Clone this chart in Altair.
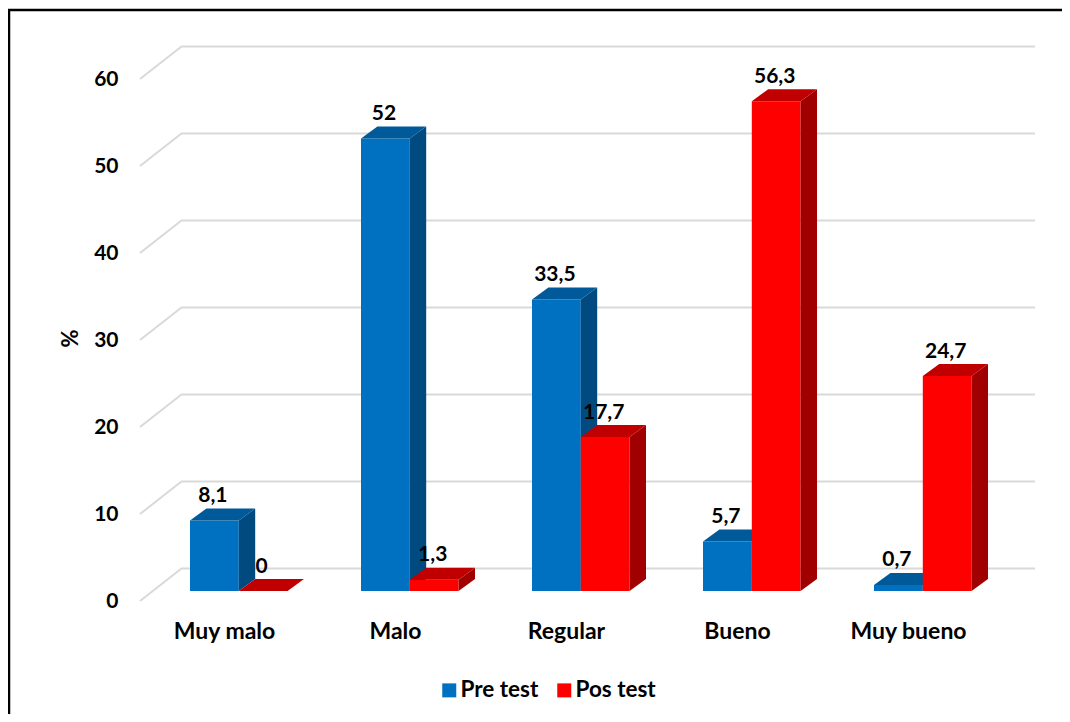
import json
import altair as alt
import pandas as pd

categories = ["Muy malo", "Malo", "Regular", "Bueno", "Muy bueno"]
pre_test = [8.1, 52, 33.5, 5.7, 0.7]
pos_test = [0, 1.3, 17.7, 56.3, 24.7]
pre_labels = ["8,1", "52", "33,5", "5,7", "0,7"]
pos_labels = ["0", "1,3", "17,7", "56,3", "24,7"]
y_ticks = [0, 10, 20, 30, 40, 50, 60]
series = ["Pre test", "Pos test"]

FONT = "Lato"
LEGEND_SIZE = 22.5
TEXT_SIZE = 21
CAT_SIZE = 23
W, H = 1054, 706
PX_X = 171.0   # pixels per category step
PX_Y = 8.7     # pixels per percent
BAR = 48.8 / PX_X
DX = 16.4 / PX_X
DY = 12 / PX_Y
X_DOMAIN = [(8 - 190) / PX_X, (8 + W - 190) / PX_X]
Y_DOMAIN = [(591 - 8 - H) / PX_Y, (591 - 8) / PX_Y]
x_scale = alt.Scale(domain=X_DOMAIN, nice=False, zero=False)
y_scale = alt.Scale(domain=Y_DOMAIN, nice=False, zero=False)

AXIS_SHIFT = 34 / PX_X
AXIS_X = [i + AXIS_SHIFT for i in range(len(categories))]
label_expr = "%s[round(datum.value - %f)]" % (json.dumps(categories), AXIS_SHIFT)
x_axis = alt.Axis(
    values=AXIS_X, labelExpr=label_expr, title=None, grid=False, domain=False, ticks=False,
    labelFont=FONT, labelFontWeight="bold", labelFontSize=CAT_SIZE, labelColor="#000000",
    labelPadding=0, offset=-83, labelBaseline="middle", labelFlush=False, labelOverlap=False,
)
y_axis = alt.Axis(
    values=y_ticks, title="%", grid=False, domain=False, ticks=False,
    labelFont=FONT, labelFontWeight="bold", labelFontSize=TEXT_SIZE, labelColor="#000000",
    labelPadding=0, offset=-110, labelOffset=10, labelBaseline="middle",
    labelOverlap=False, labelFlush=False,
    titleFont=FONT, titleFontWeight="bold", titleFontSize=22, titleColor="#000000",
    titleX=-48, titleY=330, titleAngle=270, titleAlign="center", titleBaseline="middle",
)
X = alt.X("x:Q", scale=x_scale, axis=x_axis)
Y = alt.Y("y:Q", scale=y_scale, axis=y_axis)


def faces(values, shift):
    rects, sides, tops = [], [], []
    for i, v in enumerate(values):
        x0 = i + shift
        x1 = x0 + BAR
        rects.append({"x": x0, "x2": x1, "y": 0, "y2": v})
        sides += [
            {"id": i, "x": x1, "y": 0, "y2": v},
            {"id": i, "x": x1 + DX, "y": DY, "y2": v + DY},
        ]
        tops += [
            {"id": i, "x": x0, "y": v, "y2": v},
            {"id": i, "x": x0 + DX, "y": v, "y2": v + DY},
            {"id": i, "x": x1, "y": v, "y2": v + DY},
            {"id": i, "x": x1 + DX, "y": v + DY, "y2": v + DY},
        ]
    return pd.DataFrame(rects), pd.DataFrame(sides), pd.DataFrame(tops)


def series_layers(values, shift, name, side_color, top_color):
    r, s, t = faces(values, shift)
    r["serie"] = name
    rect = alt.Chart(r).mark_rect().encode(
        x=X, x2="x2:Q", y=Y, y2="y2:Q",
        color=alt.Color(
            "serie:N",
            scale=alt.Scale(domain=series, range=["#0070C0", "#FF0000"]),
            legend=alt.Legend(
                title=None, orient="none", direction="horizontal",
                legendX=430, legendY=671, symbolType="square", symbolSize=196,
                symbolStrokeWidth=0, symbolOpacity=1, labelFont=FONT,
                labelFontWeight="bold", labelFontSize=LEGEND_SIZE, labelColor="#000000",
                columnPadding=14, labelOffset=0,
            ),
        ),
    )
    side = alt.Chart(s).mark_area(color=side_color, orient="vertical").encode(
        x=X, y=Y, y2="y2:Q", detail="id:N",
    )
    top = alt.Chart(t).mark_area(color=top_color, orient="vertical").encode(
        x=X, y=Y, y2="y2:Q", detail="id:N",
    )
    return [rect, side, top]


# gridlines: a slanted wall-floor segment and the flat back line
grid_rows = []
for t in y_ticks:
    grid_rows += [
        {"id": t, "x": (140 - 190) / PX_X, "y": t - 10 / PX_Y},
        {"id": t, "x": (181.5 - 190) / PX_X, "y": t + 22.5 / PX_Y},
        {"id": t, "x": (1035 - 190) / PX_X, "y": t + 22.5 / PX_Y},
    ]
grid = alt.Chart(pd.DataFrame(grid_rows)).mark_line(color="#D9D9D9", strokeWidth=2).encode(
    x=X, y=Y, detail="id:N", order=alt.Order("x:Q"),
)

pre_layers = series_layers(pre_test, 0, "Pre test", "#004A80", "#005A9A")
pos_layers = series_layers(pos_test, BAR, "Pos test", "#A00000", "#C00000")

label_rows = []
for i in range(len(categories)):
    label_rows.append({"x": i + BAR / 2, "y": pre_test[i], "t": pre_labels[i]})
    label_rows.append({"x": i + BAR * 1.5, "y": pos_test[i], "t": pos_labels[i]})
labels = alt.Chart(pd.DataFrame(label_rows)).mark_text(
    font=FONT, fontWeight="bold", fontSize=TEXT_SIZE, color="#000000", dy=-24.5, dx=-1.5, baseline="middle"
).encode(x=X, y=Y, text="t:N")

frame_left = alt.Chart().mark_rule(color="#000000", strokeWidth=2.5).encode(
    x=alt.value(1), y=alt.value(1), y2=alt.value(H)
)
frame_top = alt.Chart().mark_rule(color="#000000", strokeWidth=2.5).encode(
    x=alt.value(0), x2=alt.value(W), y=alt.value(2)
)

chart = alt.layer(
    grid, *pre_layers, *pos_layers, labels, frame_left, frame_top
).properties(
    width=W, height=H, padding=0, autosize=alt.AutoSizeParams(type="none"), background="#FFFFFF"
).configure_view(stroke=None)

chart.save("out.html", embed_options={"renderer": "svg", "actions": False})
